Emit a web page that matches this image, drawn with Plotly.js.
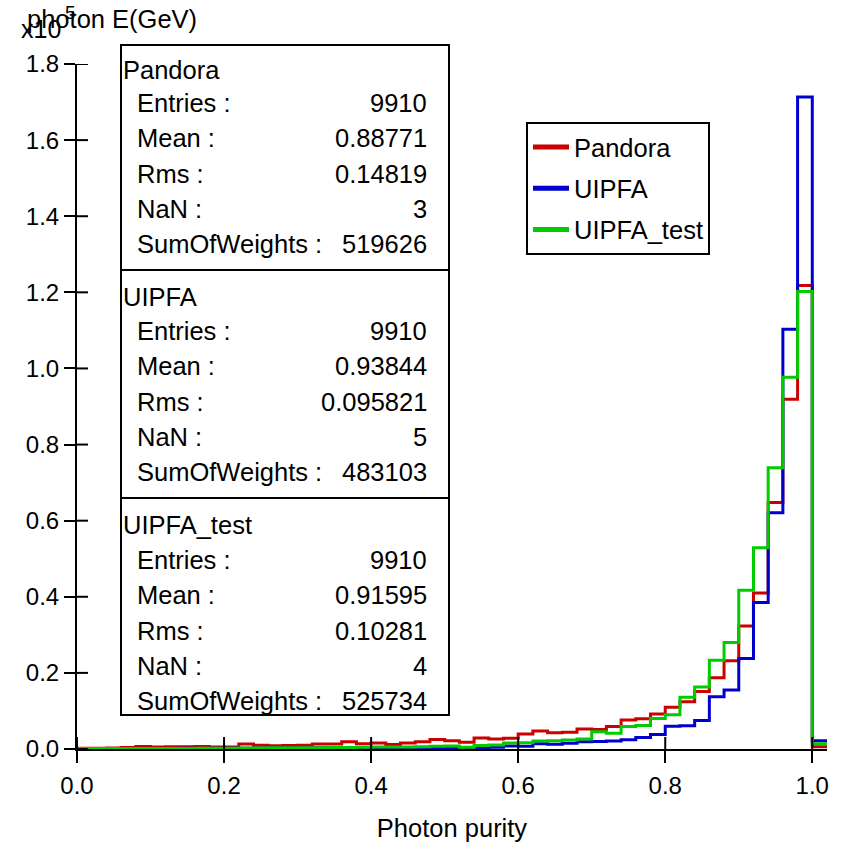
<!DOCTYPE html>
<html><head><meta charset="utf-8">
<script src="https://cdn.plot.ly/plotly-3.0.1.min.js"></script>
<style>html,body{margin:0;padding:0;background:#fff}#plot{width:848px;height:842px}</style>
</head><body><div id="plot"></div>
<script>
// ---------- data ----------
const binEdges = [0.00,0.02,0.04,0.06,0.08,0.10,0.12,0.14,0.16,0.18,0.20,0.22,0.24,0.26,0.28,0.30,0.32,0.34,0.36,0.38,0.40,0.42,0.44,0.46,0.48,0.50,0.52,0.54,0.56,0.58,0.60,0.62,0.64,0.66,0.68,0.70,0.72,0.74,0.76,0.78,0.80,0.82,0.84,0.86,0.88,0.90,0.92,0.94,0.96,0.98,1.00,1.02];
const pandora = [200,200,250,400,650,500,600,600,650,500,550,1300,1000,850,900,1000,1300,1300,1900,1350,1600,1200,1600,1900,2500,
  2150,1750,2900,2650,2800,3950,4700,4300,4400,5250,5100,5900,7600,7950,9200,11000,12400,15100,18700,23200,32300,41000,64800,91900,121800,
  600];
const uipfa = [100,100,100,150,150,150,150,200,150,200,200,200,200,250,250,250,300,300,350,350,300,350,400,400,350,
  350,200,300,450,800,700,1400,1250,1500,1900,1950,2100,2400,3000,3800,6000,6100,7500,13700,15500,23800,38500,62100,110300,171300,
  2200];
const uipfaTest = [100,100,100,100,100,150,150,150,200,200,200,250,250,300,300,300,350,400,400,450,500,500,550,600,700,
  800,450,900,1050,1600,1650,2100,2200,2350,2650,4550,4150,5900,6150,8000,9000,13600,16300,23300,28000,41700,52900,73900,97700,120200,
  1400];
const seriesNames = ['Pandora','UIPFA','UIPFA_test'];
const seriesColors = ['#cc0000','#0000cc','#00cc00'];
const xTickVals = [0,0.2,0.4,0.6,0.8,1.0];
const xTickText = ['0.0','0.2','0.4','0.6','0.8','1.0'];
const yTickVals = [0,20000,40000,60000,80000,100000,120000,140000,160000,180000];
const yTickText = ['0.0','0.2','0.4','0.6','0.8','1.0','1.2','1.4','1.6','1.8'];
const statLabels = ['Entries :','Mean :','Rms :','NaN :','SumOfWeights :'];
const statEntries = ['9910','9910','9910'];
const statMean = ['0.88771','0.93844','0.91595'];
const statRms = ['0.14819','0.095821','0.10281'];
const statNaN = ['3','5','4'];
const statSumW = ['519626','483103','525734'];

// ---------- layout helpers ----------
const W = 848, H = 842, L = 77, R = 21, T = 64, B = 93;
const pw = W - L - R, ph = H - T - B;
const px = x => (x - L) / pw;
const py = y => (H - B - y) / ph;
const FONT = 'Liberation Sans, Arial, Helvetica, sans-serif';
const fs = 25.5;

const series = [pandora, uipfa, uipfaTest];
const traces = [];
series.forEach((vals, i) => {
  traces.push({
    type: 'scatter', mode: 'lines', x: binEdges, y: vals.concat([vals[vals.length - 1]]),
    line: {shape: 'hv', color: seriesColors[i], width: 3},
    name: seriesNames[i], showlegend: false, hoverinfo: 'x+y'
  });
});
// legend entries (thicker swatches)
series.forEach((vals, i) => {
  traces.push({
    type: 'scatter', mode: 'lines', x: [null], y: [null],
    line: {color: seriesColors[i], width: 5}, name: seriesNames[i],
    legendgroup: 'g' + i, showlegend: true, hoverinfo: 'skip'
  });
});

const shapes = [];
const annotations = [];
// inward half of crossing ticks
xTickVals.forEach(v => shapes.push({type: 'line', xref: 'x', yref: 'paper',
  x0: v, x1: v, y0: 0, y1: 12 / ph, line: {color: '#000', width: 2}, layer: 'above'}));
yTickVals.forEach(v => shapes.push({type: 'line', xref: 'paper', yref: 'y',
  x0: 0, x1: 11 / pw, y0: v, y1: v, line: {color: '#000', width: 2}, layer: 'above'}));
// stat box
const boxL = 121, boxR = 449;
const secTops = [45, 270, 498];
const boxBottom = 715;
const titleY = [70, 297, 525];
const row0Y = [103, 331, 560];
const rowStep = 35.3;
shapes.push({type: 'rect', xref: 'paper', yref: 'paper', x0: px(boxL), x1: px(boxR), y0: py(boxBottom), y1: py(secTops[0]),
  line: {color: '#000', width: 2}, fillcolor: '#fff', layer: 'above'});
[secTops[1], secTops[2]].forEach(y => shapes.push({type: 'line', xref: 'paper', yref: 'paper', x0: px(boxL), x1: px(boxR),
  y0: py(y), y1: py(y), line: {color: '#000', width: 2}, layer: 'above'}));
seriesNames.forEach((nm, k) => {
  annotations.push({xref: 'paper', yref: 'paper', x: px(boxL), y: py(titleY[k]), xanchor: 'left', yanchor: 'middle',
    text: nm, showarrow: false, font: {family: FONT, size: fs, color: '#000'}});
  const vals = [statEntries[k], statMean[k], statRms[k], statNaN[k], statSumW[k]];
  statLabels.forEach((lab, i) => {
    const yy = py(row0Y[k] + rowStep * i);
    annotations.push({xref: 'paper', yref: 'paper', x: px(135), y: yy, xanchor: 'left', yanchor: 'middle',
      text: lab, showarrow: false, font: {family: FONT, size: fs, color: '#000'}});
    annotations.push({xref: 'paper', yref: 'paper', x: px(429), y: yy, xanchor: 'right', yanchor: 'middle',
      text: vals[i], showarrow: false, font: {family: FONT, size: fs, color: '#000'}});
  });
});
// corner labels
annotations.push({xref: 'paper', yref: 'paper', x: px(25), y: py(19), xanchor: 'left', yanchor: 'middle',
  text: 'photon E(GeV)', showarrow: false, font: {family: FONT, size: 25.5, color: '#000'}});
annotations.push({xref: 'paper', yref: 'paper', x: px(19), y: py(29), xanchor: 'left', yanchor: 'middle',
  text: 'x10', showarrow: false, font: {family: FONT, size: 25, color: '#000'}});
annotations.push({xref: 'paper', yref: 'paper', x: px(63), y: py(13), xanchor: 'left', yanchor: 'middle',
  text: '5', showarrow: false, font: {family: FONT, size: 19, color: '#000'}});

const axCommon = {showgrid: false, zeroline: false, tickcolor: '#000', tickwidth: 2, ticklen: 12,
  tickfont: {family: FONT, size: 24, color: '#000'}, linecolor: '#000', linewidth: 2};

const layout = {
  width: W, height: H, margin: {l: L, r: R, t: T, b: B, pad: 0},
  paper_bgcolor: '#fff', plot_bgcolor: '#fff', showlegend: true,
  font: {family: FONT, color: '#000'},
  xaxis: Object.assign({}, axCommon, {range: [0, 1.02], showline: true, ticks: 'outside', tickmode: 'array',
    tickvals: xTickVals, ticktext: xTickText, ticklabelstandoff: 2,
    title: {text: 'Photon purity', font: {family: FONT, size: 25.5, color: '#000'}, standoff: 21}}),
  yaxis: Object.assign({}, axCommon, {range: [0, 180000], showline: true, ticks: 'outside', tickmode: 'array',
    tickvals: yTickVals, ticktext: yTickText, ticklen: 11}),
  legend: {x: px(526), y: py(122), xanchor: 'left', yanchor: 'top', bordercolor: '#000', borderwidth: 2, bgcolor: '#fff',
    font: {family: FONT, size: 25.5, color: '#000'}, tracegroupgap: 5, itemwidth: 36},
  shapes: shapes, annotations: annotations
};
Plotly.newPlot('plot', traces, layout, {staticPlot: true});
</script></body></html>
